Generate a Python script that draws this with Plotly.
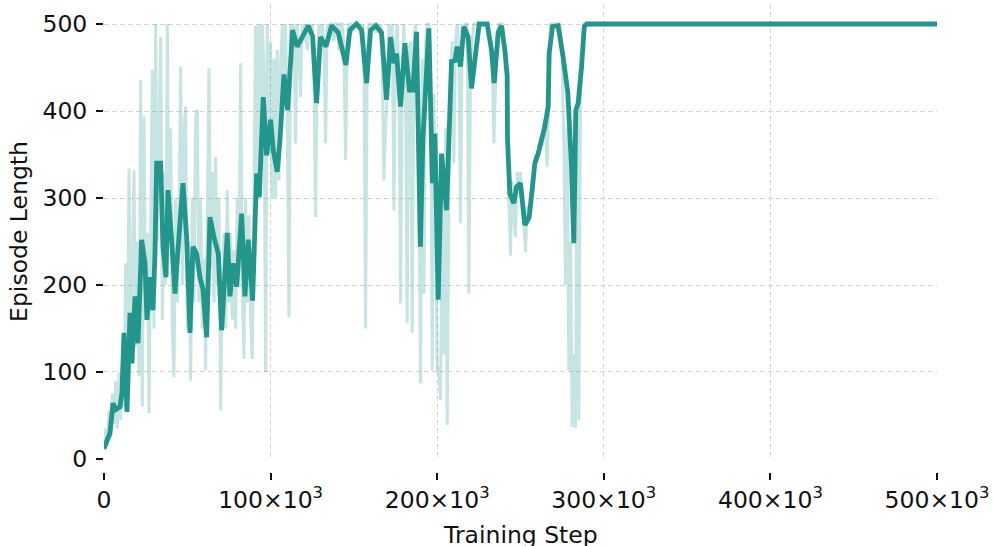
import numpy as np
import plotly.graph_objects as go

# Training log: raw episode length recorded every 1000 steps (0 .. 290k)
LOG_INTERVAL = 1000
raw_length = [
    10, 35, 15, 55, 25, 75, 40, 90, 35, 100,
    45, 110, 60, 225, 80, 334, 110, 210, 332, 130,
    250, 95, 436, 60, 394, 160, 260, 53, 300, 447,
    150, 500, 250, 400, 485, 160, 330, 200, 500, 250,
    380, 150, 94, 300, 180, 280, 451, 200, 380, 405,
    150, 250, 90, 300, 180, 393, 401, 180, 300, 150,
    230, 102, 260, 449, 220, 330, 180, 347, 200, 300,
    56, 200, 260, 150, 309, 180, 260, 160, 240, 150,
    300, 200, 455, 200, 115, 300, 180, 280, 160, 115,
    300, 498, 300, 500, 330, 500, 450, 100, 500, 350,
    480, 300, 460, 300, 470, 320, 450, 500, 420, 500,
    380, 163, 500, 470, 500, 363, 500, 470, 416, 500,
    480, 500, 470, 500, 490, 500, 440, 278, 450, 500,
    470, 500, 480, 363, 500, 490, 500, 500, 480, 500,
    500, 470, 500, 500, 470, 344, 480, 500, 500, 490,
    500, 500, 500, 500, 490, 500, 480, 150, 470, 500,
    500, 500, 500, 490, 500, 490, 500, 460, 320, 380,
    420, 500, 460, 500, 286, 480, 500, 450, 179, 440,
    500, 420, 156, 470, 480, 145, 480, 500, 380, 300,
    87, 460, 190, 480, 500, 500, 460, 102, 420, 300,
    100, 106, 68, 300, 120, 380, 39, 300, 440, 480,
    340, 480, 500, 470, 271, 500, 480, 500, 500, 190,
    440, 480, 500, 500, 500, 500, 500, 500, 500, 500,
    500, 490, 480, 460, 363, 430, 490, 500, 500, 500,
    480, 470, 440, 300, 234, 320, 280, 255, 330, 300,
    330, 300, 280, 238, 290, 270, 300, 320, 330, 350,
    340, 360, 370, 360, 390, 380, 336, 440, 500, 500,
    500, 500, 500, 500, 490, 460, 363, 200, 380, 102,
    250, 37, 120, 36, 400, 45, 420, 470, 500, 500,
    500,
]
# After 290k steps the episode length stays at the 500 cap until the end
final_step = 500_000
final_length = 500

# Smoothed episode length (steps in thousands)
smooth_step_k = [
    0, 1.8, 3.6, 5.4, 7.2, 9.6, 10.8, 12, 13.8, 15.6,
    16.8, 18.6, 20.4, 21.6, 22.6, 24.6, 25.8, 27.6, 29.4, 30.6,
    31.6, 34, 34.6, 35.4, 37.2, 38.4, 40.6, 42.6, 43.8, 47.4,
    49.6, 51.6, 53.4, 55.6, 57.6, 59.4, 61.6, 63.6, 66, 68.6,
    70.6, 72.6, 74, 75.6, 77.4, 79.6, 82.6, 84.6, 86.6, 89.2,
    91.6, 93.2, 95.6, 97.6, 100, 101.6, 104, 105.6, 108, 110.2,
    113.2, 116, 119.2, 122.6, 125.2, 127.6, 129.9, 133.2, 136.6, 140.6,
    145.2, 147.6, 151.6, 154.6, 157.6, 160, 163.2, 166.6, 169.6, 172,
    174, 175.6, 178, 180.6, 183.3, 185.4, 187.6, 189.9, 191.4, 193.5,
    195, 197.1, 198.6, 200.6, 202.6, 205.6, 208.6, 210.6, 212, 214,
    216, 218.6, 220.6, 222.6, 225.2, 230, 232.6, 234.2, 236.6, 238.6,
    240.6, 242, 242.2, 243.6, 246, 247.6, 250, 252.6, 255.2, 257.2,
    258.6, 260.6, 262.6, 264.6, 266.6, 267.2, 269.2, 272.6, 275.6, 278.4,
    280.6, 282, 283.2, 284.6, 286.6, 288.3, 289.8, 500,
]
smooth_length = [
    12, 20, 30, 64, 57, 60, 76, 145, 54, 168,
    110, 187, 133, 198, 252, 225, 160, 209, 171, 236,
    340, 340, 271, 244, 209, 309, 252, 190, 225, 317,
    255, 145, 244, 236, 209, 195, 140, 278, 255, 236,
    148, 209, 260, 187, 225, 198, 282, 187, 252, 182,
    328, 301, 416, 349, 390, 355, 330, 366, 442, 401,
    493, 474, 485, 498, 486, 409, 485, 474, 498, 490,
    453, 493, 500, 493, 432, 493, 498, 490, 413, 485,
    455, 466, 405, 478, 424, 424, 491, 244, 367, 439,
    495, 317, 374, 183, 351, 286, 457, 458, 474, 451,
    497, 485, 426, 458, 500, 500, 470, 432, 490, 498,
    470, 440, 367, 305, 294, 313, 317, 269, 278, 313,
    340, 351, 366, 382, 405, 466, 497, 498, 462, 421,
    336, 248, 401, 409, 450, 497, 500, 500,
]

x_tick_vals = [0, 100_000, 200_000, 300_000, 400_000, 500_000]
x_tick_text = ["0", "100×10<sup>3</sup>", "200×10<sup>3</sup>",
               "300×10<sup>3</sup>", "400×10<sup>3</sup>", "500×10<sup>3</sup>"]
y_tick_vals = [0, 100, 200, 300, 400, 500]

TEAL = "#22968a"
FONT = "DejaVu Sans"
FONT_SIZE = 23.5

raw_steps = list(np.arange(len(raw_length)) * LOG_INTERVAL) + [final_step]
raw_values = raw_length + [final_length]
smooth_steps = [k * 1000 for k in smooth_step_k]

fig = go.Figure()
fig.add_trace(go.Scatter(
    x=raw_steps, y=raw_values, mode="lines",
    line=dict(color=TEAL, width=3), opacity=0.25,
    hoverinfo="skip", showlegend=False,
))
fig.add_trace(go.Scatter(
    x=smooth_steps, y=smooth_length, mode="lines",
    line=dict(color=TEAL, width=4.8),
    showlegend=False,
))

grid = dict(showgrid=True, gridcolor="#d5d5d5", gridwidth=1, griddash="5px,3px")
tick = dict(ticks="outside", ticklen=7, tickwidth=1.6, tickcolor="#111111",
            tickfont=dict(family=FONT, size=FONT_SIZE, color="#111111"))

fig.update_layout(
    width=993, height=546,
    margin=dict(l=104, r=56, t=4, b=74),
    paper_bgcolor="white", plot_bgcolor="white",
    font=dict(family=FONT, color="#111111"),
    xaxis=dict(
        range=[0, 500_000], tickvals=x_tick_vals, ticktext=x_tick_text,
        showline=False, zeroline=False, anchor="free", position=0,
        automargin=False,
        **grid, **tick,
    ),
    yaxis=dict(
        range=[0, 523], domain=[0.0278, 1], tickvals=y_tick_vals,
        showline=False, zeroline=False, ticklabelstandoff=4, automargin=False,
        title=dict(text="Episode Length", font=dict(family=FONT, size=FONT_SIZE), standoff=8),
        **grid, **tick,
    ),
    annotations=[dict(
        text="Training Step", xref="paper", yref="paper",
        x=0.5, y=-0.100, xanchor="center", yanchor="top", showarrow=False,
        font=dict(family=FONT, size=FONT_SIZE, color="#111111"),
    )],
)

fig.write_html("out.html")
